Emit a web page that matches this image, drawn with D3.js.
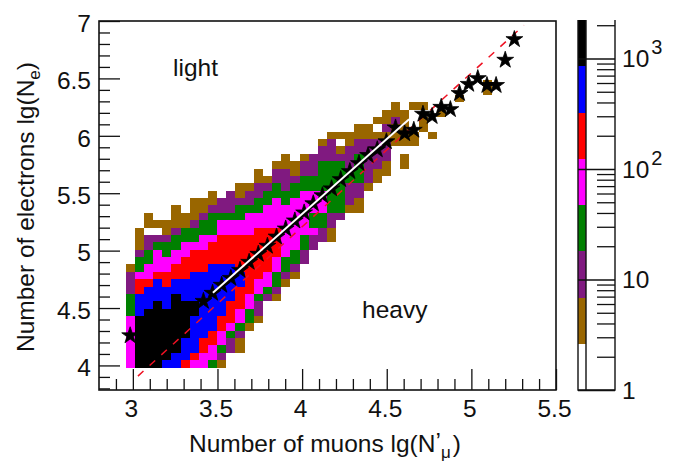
<!DOCTYPE html>
<html>
<head>
<meta charset="utf-8">
<script src="https://cdn.jsdelivr.net/npm/d3@7"></script>
<style>
  html, body { margin: 0; padding: 0; background: #fff; }
  text { font-family: "Liberation Sans", sans-serif; fill: #111; }
</style>
</head>
<body>
<div id="chart"></div>
<script>
// 2d histogram, one entry per muon bin: first filled electron bin, then the band of each bin going up
// 0 empty, 1 brown ... 7 black
const binColumn = [
  0, 1, 2, 3, 4, 5, 6, 7, 8, 9, 10, 11, 12, 13, 14, 15, 16, 17, 18, 19, 20,
  21, 22, 23, 24, 25, 26, 27, 28, 29, 30, 31, 32, 33, 34, 36, 39
];
const binStart = [
  0, 0, 0, 0, 0, 0, 0, 0, 0, 0, 0, 2, 2, 5, 6, 9, 9, 11, 12, 14, 16,
  17, 17, 20, 21, 21, 24, 25, 26, 30, 27, 30, 32, 31, 34, 36, 37
];
const binBands = [
  "44444443332221",
  "7777777666554332111",
  "777777776665443322011",
  "77777777766654443201",
  "67777777666554433211",
  "6677777777665544332111",
  "566677777666555443311",
  "45666667766665554332111",
  "44556666666665554433211",
  "344556666666665554333211",
  "12344556666666555544322",
  "2234555666665555443222",
  "11234455566555554433211",
  "13344555555554443221",
  "122344555555544332211",
  "23445555554443321",
  "1233445555444433221",
  "123344444443322211",
  "1233444444433211",
  "223344444433221",
  "2243344433222",
  "22334443333221",
  "112233333332221",
  "233333332101",
  "12223322211",
  "112233332211",
  "122222211",
  "112222101",
  "112221211",
  "111211",
  "11011111",
  "110001",
  "1101",
  "1",
  "1",
  "1",
  "11"
];
const bandCounts = [0, 4, 11, 29, 76, 200, 520, 1400];

// colour bar contours and colours
const contourLevels = [1, 2.62, 6.86, 18, 47.2, 124, 324, 848, 2230];
const contourColors = ["#ffffff", "#996600", "#801a80", "#008000", "#ff00ff", "#ff0000", "#0000ff", "#000000"];

// profile, mean electrons per muon bin
const profileMuons = [
  2.984, 3.417, 3.471, 3.525, 3.579, 3.633, 3.687, 3.741, 3.795, 3.849, 3.903, 3.957,
  4.012, 4.066, 4.120, 4.174, 4.228, 4.282, 4.336, 4.390, 4.444, 4.498, 4.552, 4.606,
  4.660, 4.714, 4.768, 4.822, 4.876, 4.930, 4.984, 5.038, 5.092, 5.146, 5.200, 5.254
];
const profileElectrons = [
  4.26, 4.56, 4.63, 4.70, 4.76, 4.83, 4.90, 4.97, 5.04, 5.12, 5.19, 5.26,
  5.33, 5.41, 5.48, 5.54, 5.62, 5.69, 5.76, 5.83, 5.88, 5.95, 6.07, 6.02,
  6.05, 6.19, 6.17, 6.25, 6.23, 6.37, 6.45, 6.50, 6.44, 6.44, 6.66, 6.84
];

// fit (white) and reference (red dashed) lines
const fitLine = [[3.473, 4.632], [4.632, 6.145]];
const refLine = [[3.03, 3.907], [5.31, 6.963]];

const xMajor = [3, 3.5, 4, 4.5, 5, 5.5];
const xMinor = [2.9, 3.1, 3.2, 3.3, 3.4, 3.6, 3.7, 3.8, 3.9, 4.1, 4.2, 4.3, 4.4, 4.6, 4.7, 4.8, 4.9, 5.1, 5.2, 5.3, 5.4];
const yMajor = [4, 4.5, 5, 5.5, 6, 6.5, 7];
const yMinor = [3.8, 3.9, 4.1, 4.2, 4.3, 4.4, 4.6, 4.7, 4.8, 4.9, 5.1, 5.2, 5.3, 5.4, 5.6, 5.7, 5.8, 5.9, 6.1, 6.2, 6.3, 6.4, 6.6, 6.7, 6.8, 6.9];
const barMajor = [1, 10, 100, 1000];
const barMinor = [2, 3, 4, 5, 6, 7, 8, 9, 20, 30, 40, 50, 60, 70, 80, 90, 200, 300, 400, 500, 600, 700, 800, 900, 2000];

// histogram binning
const muonBinStart = 2.957, muonBinWidth = 0.0541;
const electronBinStart = 3.981, electronBinHeight = 0.0642;

const width = 688, height = 462;
const margin = {top: 21, right: 132, bottom: 72, left: 99};
const fontSize = 24.5;

const x = d3.scaleLinear().domain([2.8, 5.5]).range([margin.left, width - margin.right]);
const y = d3.scaleLinear().domain([3.786, 7]).range([height - margin.bottom, margin.top]);
const barY = d3.scaleLog().domain([1, 2230]).range([height - margin.bottom, margin.top - 1]);
const color = d3.scaleThreshold().domain(contourLevels.slice(1, -1)).range(contourColors);

const svg = d3.select("#chart").append("svg")
  .attr("width", width)
  .attr("height", height)
  .style("display", "block");

// flatten into one record per filled cell
const cells = [];
binBands.forEach((bands, k) => {
  bands.split("").forEach((b, j) => {
    if (+b > 0) cells.push({col: binColumn[k], row: binStart[k] + j, count: bandCounts[+b]});
  });
});

svg.append("g").selectAll("rect")
  .data(cells)
  .join("rect")
  .attr("x", d => x(muonBinStart + d.col * muonBinWidth))
  .attr("width", d => x(muonBinStart + (d.col + 1) * muonBinWidth) - x(muonBinStart + d.col * muonBinWidth))
  .attr("y", d => y(electronBinStart + (d.row + 1) * electronBinHeight))
  .attr("height", d => y(electronBinStart + d.row * electronBinHeight) - y(electronBinStart + (d.row + 1) * electronBinHeight))
  .attr("fill", d => color(d.count))
  .attr("shape-rendering", "crispEdges");

const line = d3.line().x(d => x(d[0])).y(d => y(d[1]));

svg.append("path")
  .attr("d", line(refLine))
  .attr("fill", "none")
  .attr("stroke", "#ee1122")
  .attr("stroke-width", 1.5)
  .attr("stroke-dasharray", "7.5 8.3");

svg.append("g").selectAll("path")
  .data(profileMuons)
  .join("path")
  .attr("d", d3.symbol(d3.symbolStar, 88))
  .attr("transform", (d, i) => `translate(${x(d)},${y(profileElectrons[i])})`)
  .attr("fill", "#000")
  .attr("stroke", "#000")
  .attr("stroke-width", 0.8);

svg.append("path")
  .attr("d", line(fitLine))
  .attr("fill", "none")
  .attr("stroke", "#fff")
  .attr("stroke-width", 2);

// axes
function ticks(g) {
  g.selectAll("line").attr("stroke", "#111").attr("stroke-width", 1.3);
  g.select(".domain").remove();
}

const xAxisG = svg.append("g").attr("transform", `translate(0,${height - margin.bottom})`);
xAxisG.append("g").call(d3.axisBottom(x).tickValues(xMinor).tickSize(-11).tickFormat("")).call(ticks);
xAxisG.append("g").call(d3.axisBottom(x).tickValues(xMajor).tickSize(-21).tickFormat(d3.format("~g")).tickPadding(10)).call(ticks)
  .selectAll("text").attr("font-size", fontSize).attr("dx", -2).style("font-family", "Liberation Sans");

const yAxisG = svg.append("g").attr("transform", `translate(${margin.left},0)`);
yAxisG.append("g").call(d3.axisLeft(y).tickValues(yMinor).tickSize(-11).tickFormat("")).call(ticks);
yAxisG.append("g").call(d3.axisLeft(y).tickValues(yMajor).tickSize(-21).tickFormat(d3.format("~g")).tickPadding(8)).call(ticks)
  .selectAll("text").attr("font-size", fontSize).attr("dy", "0.42em").style("font-family", "Liberation Sans");

// frame
svg.append("rect")
  .attr("x", margin.left)
  .attr("y", margin.top)
  .attr("width", width - margin.left - margin.right)
  .attr("height", height - margin.top - margin.bottom)
  .attr("fill", "none")
  .attr("stroke", "#111")
  .attr("stroke-width", 1.6);

// axis titles
const xTitle = svg.append("text")
  .attr("x", 189)
  .attr("y", 452)
  .attr("font-size", fontSize);
xTitle.append("tspan").text("Number of muons lg(N");
xTitle.append("tspan").text("’").attr("dy", -2);
xTitle.append("tspan").text("μ").attr("font-size", 17).attr("dy", 8);
xTitle.append("tspan").text(")").attr("dy", -6).attr("dx", 2);

const yTitle = svg.append("text")
  .attr("transform", "translate(34,352) rotate(-90)")
  .attr("font-size", fontSize);
yTitle.append("tspan").text("Number of electrons lg(N");
yTitle.append("tspan").text("e").attr("font-size", 17).attr("dy", 6);
yTitle.append("tspan").text(")").attr("dy", -6);

svg.append("text").attr("x", 173).attr("y", 76).attr("font-size", fontSize).text("light");
svg.append("text").attr("x", 362).attr("y", 318).attr("font-size", fontSize).text("heavy");

// colour bar
const barLeft = 578, barMid = 586, barRight = 615;

svg.append("g").selectAll("rect")
  .data(contourColors)
  .join("rect")
  .attr("x", barLeft)
  .attr("width", barMid - barLeft)
  .attr("y", (d, i) => barY(contourLevels[i + 1]))
  .attr("height", (d, i) => barY(contourLevels[i]) - barY(contourLevels[i + 1]))
  .attr("fill", d => d)
  .attr("shape-rendering", "crispEdges");

const barAxisG = svg.append("g").attr("transform", `translate(${barRight},0)`);
barAxisG.append("g").call(d3.axisLeft(barY).tickValues(barMinor).tickSize(18).tickFormat("")).call(ticks);
barAxisG.append("g").call(d3.axisLeft(barY).tickValues(barMajor).tickSize(barRight - barLeft).tickFormat("")).call(ticks);

svg.append("path")
  .attr("d", `M${barLeft},${barY(2230)}V${barY(1)}H${barRight}V${barY(2230)}M${barMid},${barY(2230)}V${barY(1)}`)
  .attr("fill", "none")
  .attr("stroke", "#111")
  .attr("stroke-width", 1.4);

const barLabels = svg.append("g").selectAll("text")
  .data(barMajor)
  .join("text")
  .attr("x", barRight + 7)
  .attr("y", d => barY(d) + 9)
  .attr("font-size", fontSize);
barLabels.append("tspan").text(d => d === 1 ? "1" : "10");
barLabels.append("tspan")
  .text(d => d >= 100 ? Math.log10(d) : "")
  .attr("font-size", 20)
  .attr("dx", 2)
  .attr("dy", -13);
</script>
</body>
</html>
